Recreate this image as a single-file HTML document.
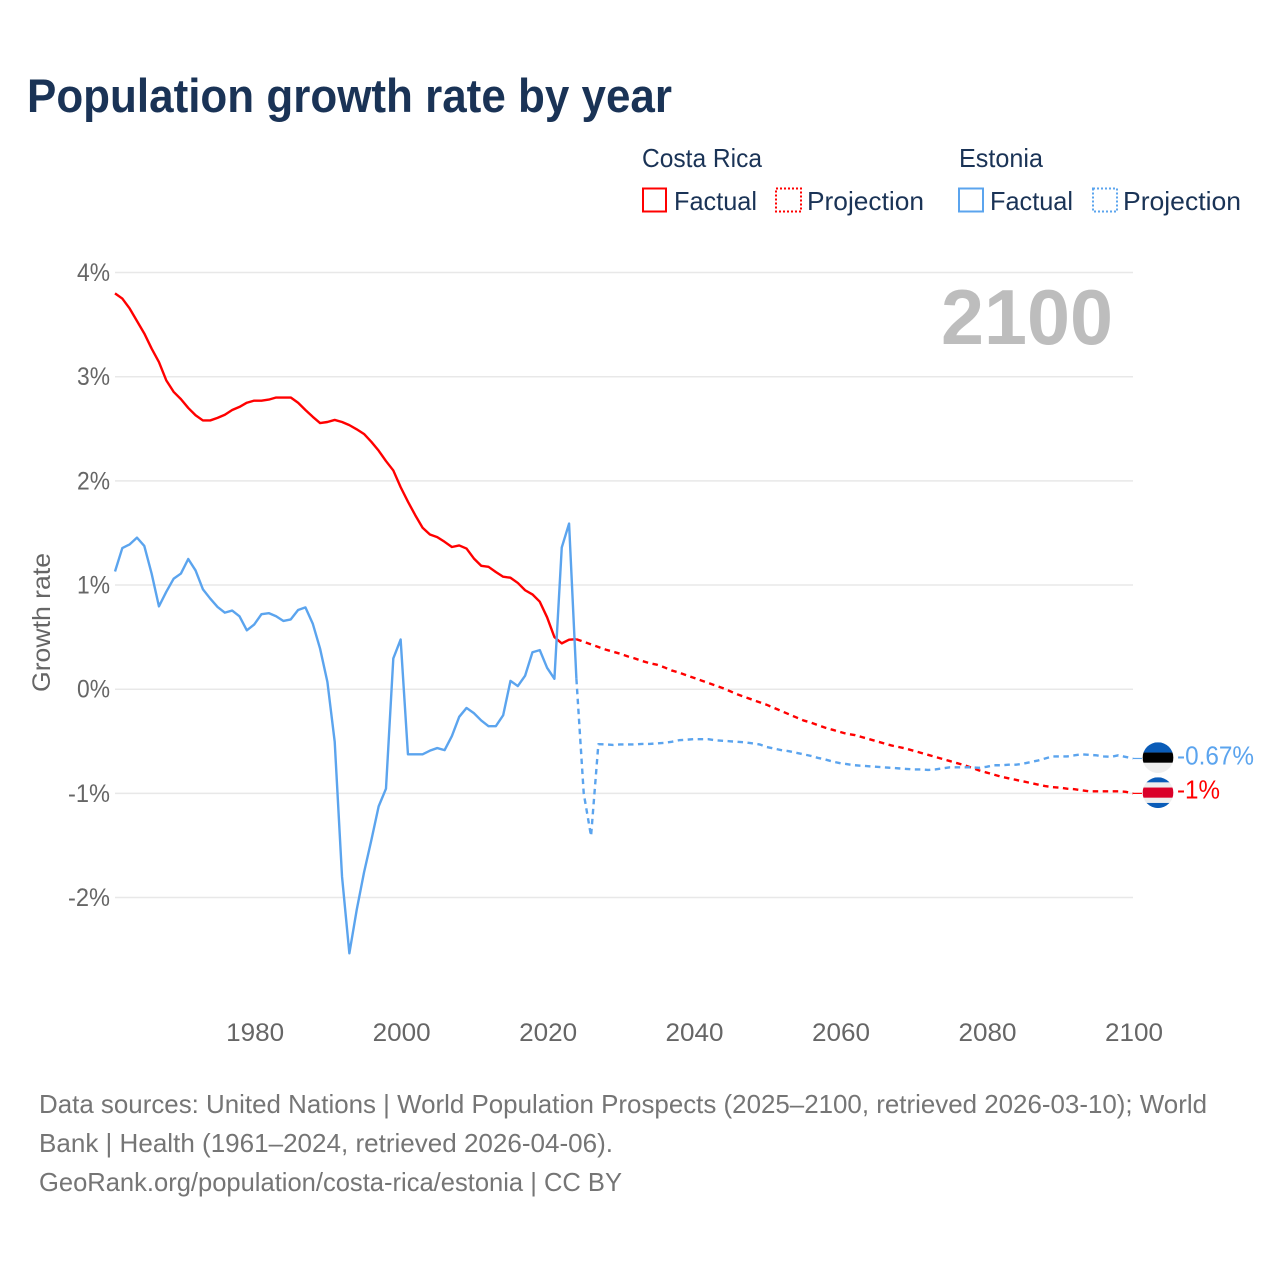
<!DOCTYPE html>
<html lang="en">
<head>
<meta charset="utf-8">
<title>Population growth rate by year</title>
<style>
html,body{margin:0;padding:0;background:#fff;}
svg{display:block;}
text{font-family:"Liberation Sans",sans-serif;}
</style>
</head>
<body>
<svg id="chart" xmlns="http://www.w3.org/2000/svg" width="1280" height="1280" viewBox="0 0 1280 1280">
  <rect x="0" y="0" width="1280" height="1280" fill="#fff"/>
  <text x="27" y="112" font-size="47" font-weight="700" fill="#1a3356" textLength="645" lengthAdjust="spacingAndGlyphs">Population growth rate by year</text>

  <g font-size="26" fill="#1a3356">
    <text x="642" y="167" textLength="120" lengthAdjust="spacingAndGlyphs">Costa Rica</text>
    <text x="959" y="167" textLength="84" lengthAdjust="spacingAndGlyphs">Estonia</text>
    <rect x="643" y="188.5" width="23" height="23" fill="none" stroke="#ff0000" stroke-width="2"/>
    <text x="674" y="210" textLength="83" lengthAdjust="spacingAndGlyphs">Factual</text>
    <rect x="776" y="188.5" width="25" height="23" fill="none" stroke="#ff0000" stroke-width="2" stroke-dasharray="2 2"/>
    <text x="807" y="210" textLength="117" lengthAdjust="spacingAndGlyphs">Projection</text>
    <rect x="959" y="188.5" width="24" height="23" fill="none" stroke="#5ba4ee" stroke-width="2"/>
    <text x="990" y="210" textLength="83" lengthAdjust="spacingAndGlyphs">Factual</text>
    <rect x="1093" y="188.5" width="24" height="23" fill="none" stroke="#5ba4ee" stroke-width="2" stroke-dasharray="2 2"/>
    <text x="1123" y="210" textLength="118" lengthAdjust="spacingAndGlyphs">Projection</text>
  </g>

  <text transform="translate(50,622.5) rotate(-90)" text-anchor="middle" font-size="25" fill="#666" textLength="139" lengthAdjust="spacingAndGlyphs">Growth rate</text>
  <g id="grid"></g>
  <g id="yticks"></g>
  <g id="xticks"></g>
  <text x="1113" y="344" text-anchor="end" font-size="78" font-weight="700" fill="#bdbdbd" textLength="172" lengthAdjust="spacingAndGlyphs">2100</text>
  <g id="series"></g>
  <g id="ends"></g>

  <g font-size="26" fill="#757575">
    <text x="39" y="1113" textLength="1168" lengthAdjust="spacingAndGlyphs">Data sources: United Nations | World Population Prospects (2025–2100, retrieved 2026-03-10); World</text>
    <text x="39" y="1152" textLength="574" lengthAdjust="spacingAndGlyphs">Bank | Health (1961–2024, retrieved 2026-04-06).</text>
    <text x="39" y="1191" textLength="583" lengthAdjust="spacingAndGlyphs">GeoRank.org/population/costa-rica/estonia | CC BY</text>
  </g>
</svg>
<script>
const xTicks = [1980, 2000, 2020, 2040, 2060, 2080, 2100];
const yTicks = [4, 3, 2, 1, 0, -1, -2];
const factualStartYear = 1961;
const projectionStartYear = 2024;

const costaRicaFactual = [3.80,3.75,3.655,3.535,3.415,3.27,3.14,2.965,2.855,2.785,2.70,2.63,2.58,2.58,2.605,2.635,2.68,2.71,2.75,2.77,2.77,2.78,2.80,2.80,2.80,2.75,2.68,2.615,2.555,2.565,2.585,2.565,2.535,2.495,2.45,2.375,2.29,2.19,2.10,1.94,1.80,1.67,1.55,1.485,1.46,1.415,1.365,1.38,1.35,1.255,1.185,1.175,1.125,1.08,1.07,1.02,0.95,0.91,0.84,0.69,0.50,0.44,0.475,0.48];

const estoniaFactual = [1.13,1.355,1.39,1.455,1.375,1.11,0.795,0.935,1.06,1.11,1.25,1.14,0.96,0.87,0.79,0.735,0.755,0.70,0.565,0.62,0.72,0.73,0.70,0.655,0.67,0.76,0.785,0.63,0.39,0.07,-0.505,-1.80,-2.535,-2.12,-1.76,-1.45,-1.125,-0.955,0.295,0.477,-0.625,-0.625,-0.625,-0.59,-0.565,-0.585,-0.45,-0.265,-0.18,-0.23,-0.30,-0.355,-0.355,-0.25,0.08,0.03,0.13,0.355,0.375,0.205,0.10,1.36,1.59,0.10];

const costaRicaProjection = [0.48,0.455,0.43,0.405,0.38,0.36,0.34,0.315,0.295,0.27,0.25,0.235,0.21,0.18,0.16,0.135,0.11,0.085,0.06,0.035,0.01,-0.02,-0.05,-0.075,-0.10,-0.125,-0.15,-0.18,-0.21,-0.24,-0.27,-0.30,-0.32,-0.345,-0.37,-0.39,-0.41,-0.43,-0.44,-0.46,-0.48,-0.50,-0.52,-0.54,-0.555,-0.57,-0.59,-0.61,-0.63,-0.65,-0.67,-0.69,-0.71,-0.73,-0.755,-0.78,-0.80,-0.82,-0.84,-0.855,-0.87,-0.885,-0.90,-0.915,-0.93,-0.94,-0.945,-0.955,-0.96,-0.97,-0.98,-0.98,-0.98,-0.98,-0.98,-0.985,-1.0];

const estoniaProjection = [0.10,-1.00,-1.41,-0.528,-0.53,-0.535,-0.53,-0.53,-0.53,-0.525,-0.525,-0.52,-0.515,-0.505,-0.49,-0.485,-0.48,-0.48,-0.48,-0.49,-0.495,-0.50,-0.505,-0.51,-0.52,-0.53,-0.555,-0.57,-0.585,-0.595,-0.61,-0.625,-0.64,-0.66,-0.675,-0.695,-0.71,-0.72,-0.73,-0.735,-0.74,-0.745,-0.75,-0.755,-0.76,-0.765,-0.77,-0.77,-0.775,-0.77,-0.76,-0.75,-0.75,-0.75,-0.75,-0.755,-0.745,-0.73,-0.73,-0.725,-0.725,-0.715,-0.70,-0.685,-0.665,-0.645,-0.645,-0.645,-0.635,-0.625,-0.63,-0.635,-0.645,-0.65,-0.635,-0.65,-0.665];

const endLabels = ["-1%", "-0.67%"];

const SVGNS = "http://www.w3.org/2000/svg";
function xScale(year) { return 115 + (year - 1961) * (1018 / 139); }
function yScale(v) { return 689.2 - v * 104.17; }
function pointsFor(values, startYear) {
  return values.map(function (v, i) {
    return xScale(startYear + i).toFixed(2) + "," + yScale(v).toFixed(2);
  }).join(" ");
}
function make(tag, attrs, parent) {
  const el = document.createElementNS(SVGNS, tag);
  Object.keys(attrs).forEach(function (k) { el.setAttribute(k, attrs[k]); });
  parent.appendChild(el);
  return el;
}

const grid = document.getElementById("grid");
const yTickGroup = document.getElementById("yticks");
const xTickGroup = document.getElementById("xticks");
const seriesGroup = document.getElementById("series");
const endsGroup = document.getElementById("ends");

yTicks.forEach(function (t) {
  const line = make("line", {x1: 115, x2: 1133, y1: yScale(t), y2: yScale(t), stroke: "#e8e8e8", "stroke-width": 1.5}, grid);
  
  
  const label = make("text", {x: 110, y: yScale(t) + 8.5, "text-anchor": "end", "font-size": 25, fill: "#666", textLength: t < 0 ? 42 : 33, lengthAdjust: "spacingAndGlyphs"}, yTickGroup);
  
  
  label.textContent = t + "%";
});

xTicks.forEach(function (t) {
  const label = make("text", {x: xScale(t) + 1, y: 1041, "text-anchor": "middle", "font-size": 25, fill: "#666", textLength: 58, lengthAdjust: "spacingAndGlyphs"}, xTickGroup);
  
  
  label.textContent = t;
});

function drawLine(values, startYear, color, dashed) {
  const attrs = {points: pointsFor(values, startYear), fill: "none", stroke: color, "stroke-width": 2.4, "stroke-linejoin": "round"};
  if (dashed) { attrs["stroke-dasharray"] = "5.5 4.5"; }
  return make("polyline", attrs, seriesGroup);
}

const crFactual = drawLine(costaRicaFactual, factualStartYear, "#ff0000", false);


const crProjection = drawLine(costaRicaProjection, projectionStartYear, "#ff0000", true);


const eeFactual = drawLine(estoniaFactual, factualStartYear, "#5ba4ee", false);


const eeProjection = drawLine(estoniaProjection, projectionStartYear, "#5ba4ee", true);



const FLAG_X = 1158, FLAG_R = 15.4;
const defs = make("defs", {}, endsGroup);

function flag(cy, id, stripes, groupName) {
  const clip = make("clipPath", {id: id}, defs);
  make("circle", {cx: FLAG_X, cy: cy, r: FLAG_R}, clip);
  const g = make("g", {"clip-path": "url(#" + id + ")"}, endsGroup);
  
  
  let top = cy - FLAG_R;
  stripes.forEach(function (s) {
    make("rect", {x: FLAG_X - FLAG_R, y: top, width: FLAG_R * 2, height: s[0] * FLAG_R * 2, fill: s[1]}, g);
    top += s[0] * FLAG_R * 2;
  });
}

const lastCr = costaRicaProjection[costaRicaProjection.length - 1];
const lastEe = estoniaProjection[estoniaProjection.length - 1];

const leaderCr = make("line", {x1: xScale(2100), x2: 1142, y1: yScale(lastCr), y2: yScale(lastCr), stroke: "#ff0000", "stroke-width": 1.2}, endsGroup);


const leaderEe = make("line", {x1: xScale(2100), x2: 1142, y1: yScale(lastEe), y2: yScale(lastEe), stroke: "#5ba4ee", "stroke-width": 1.2}, endsGroup);



flag(yScale(lastEe) - 0.8, "clip-ee", [[1/3, "#0a5cb8"], [1/3, "#000000"], [1/3, "#eeeeee"]], "estonia-flag");
flag(yScale(lastCr) - 0.7, "clip-cr", [[1/6, "#0a5cb8"], [1/6, "#eeeeee"], [1/3, "#da0029"], [1/6, "#eeeeee"], [1/6, "#0a5cb8"]], "costa-rica-flag");

const labelCr = make("text", {x: 1177, y: yScale(lastCr) + 5, "font-size": 26, fill: "#ff0000", textLength: 43, lengthAdjust: "spacingAndGlyphs"}, endsGroup);


labelCr.textContent = endLabels[0];
const labelEe = make("text", {x: 1177, y: yScale(lastEe) + 6, "font-size": 26, fill: "#5ba4ee", textLength: 77, lengthAdjust: "spacingAndGlyphs"}, endsGroup);


labelEe.textContent = endLabels[1];
</script>
</body>
</html>
